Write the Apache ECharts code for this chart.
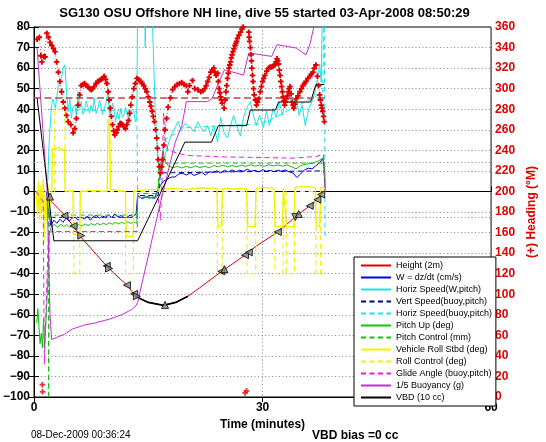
<!DOCTYPE html>
<html><head><meta charset="utf-8">
<script src="https://cdn.jsdelivr.net/npm/echarts@6/dist/echarts.min.js"></script>
<style>html,body{margin:0;padding:0;background:#fff}#c{width:546px;height:442px}</style>
</head><body><div id="c"></div>
<script>
const FONT = '"Liberation Sans", Arial, Helvetica, sans-serif';

// ---- data (time in minutes) ----
const legendNames = ['Height (2m)','W = dz/dt (cm/s)','Horiz Speed(W,pitch)','Vert Speed(buoy,pitch)','Horiz Speed(buoy,pitch)','Pitch Up (deg)','Pitch Control (mm)','Vehicle Roll Stbd (deg)','Roll Control (deg)','Glide Angle (buoy,pitch)','1/5 Buoyancy (g)','VBD (10 cc)'];

const height = [[1.7,0],[2.0,-2],[2.3,-5],[4.3,-12.6],[6.2,-22.4],[9.7,-37],[12.3,-46],[13.3,-51],[15,-54],[17,-55.4],[18.6,-54],[20.2,-51],[21.7,-47],[24.7,-38.7],[27.9,-30.5],[29.2,-26.5],[32.1,-19.5],[34.4,-12],[36.2,-7],[37.2,-4],[37.9,0]];
const heightMarks = [[2.1,-2.5,0],[4.0,-11.8,90],[5.2,-16.8,90],[6.2,-21.5,-90],[9.55,-36.2,90],[9.85,-37.5,-90],[12.2,-45.6,90],[13.15,-49.8,90],[13.5,-51,-90],[17.2,-55.2,0],[24.6,-38.9,90],[25.0,-37.8,0],[27.7,-31,90],[28.2,-29.6,90],[32.0,-19.7,90],[34.3,-12.5,180],[34.75,-11,0],[36.2,-7,90],[37.2,-4,90],[37.7,-1.5,90]];

const wSpeed = [[0.3,0],[1.6,0],[1.9,-8],[2.2,-16.6],[2.6,-14],[3.0,-15.5],[3.4,-13.5],[3.8,-15],[4.2,-13],[4.6,-14.5],[5.0,-13],[5.4,-12.6],[5.8,-14],[6.2,-12.5],[6.6,-13.5],[7.0,-12],[7.4,-14],[7.8,-12.2],[8.2,-11.7],[8.6,-13],[9.0,-12],[9.4,-12.6],[9.8,-11.5],[10.2,-12.8],[10.6,-10.9],[11.0,-12.5],[11.4,-11.7],[11.8,-12.8],[12.2,-12.6],[12.6,-11.5],[13.0,-12.2],[13.4,-11],[13.6,-2],[14.2,-3.5],[14.8,-2.5],[15.4,-3],[15.8,-3.4],[16.2,0],[16.6,3],[17.0,5],[17.5,6],[18.0,7],[18.5,7],[19.0,8.5],[19.5,8.8],[20.0,8],[20.5,9],[21.0,7.8],[21.5,8.5],[22.0,9.3],[22.5,8],[23.0,9.5],[23.5,9.3],[24.0,10],[24.5,9],[25.0,10.3],[25.5,9.5],[26.0,10.5],[26.5,9.6],[27.0,10.3],[27.5,9.8],[28.0,10.8],[28.5,9.8],[29.0,10.3],[29.5,9.5],[30.0,10.6],[30.5,9.8],[31.0,10.3],[31.5,9.6],[32.0,10.3],[32.5,9.8],[33.0,10.5],[33.5,9.5],[34.0,9],[34.5,6.8],[35.0,8.5],[35.5,10.5],[36.0,11.3],[36.5,11],[37.0,12.5],[37.5,14],[37.9,16],[38.05,12.7],[38.2,1.5]];

const horizSpeedW = [[1.8,5],[2.0,25],[2.3,42],[2.5,45],[2.8,40.5],[3.2,52],[3.6,55],[3.84,60],[4.05,61.6],[4.27,48.6],[4.48,38.8],[4.7,45],[4.9,35.6],[5.1,41],[5.35,42],[5.55,37],[5.8,48.6],[6.0,40.5],[6.2,43.7],[6.4,37.5],[6.6,38.8],[6.85,44],[7.1,43.7],[7.3,38],[7.5,42],[7.7,39],[7.9,45.3],[8.15,38],[8.4,40.5],[8.6,44.5],[8.8,43.7],[9.0,37.5],[9.2,40.5],[9.45,43],[9.7,48.6],[9.9,37.2],[10.1,38.8],[10.3,43],[10.5,40.5],[10.7,33.9],[10.95,38.8],[11.15,35],[11.4,40.5],[11.6,36],[11.8,37.2],[12.0,41],[12.2,40.5],[12.45,35],[12.7,37.2],[12.9,40],[13.1,38.8],[13.3,33.9],[13.5,36],[13.6,100],[14.5,100],[14.6,70],[14.7,100],[15.4,100],[15.9,40],[16.2,20],[16.5,7],[16.9,13],[17.3,19],[17.7,24],[18.1,28],[18.5,31],[18.9,34],[19.3,30],[19.8,33],[20.2,32],[20.6,31],[21.0,29],[21.5,34],[21.9,31],[22.3,29],[22.8,32],[23.2,27],[23.6,32],[24.1,24],[24.5,36],[24.9,29],[25.4,26],[25.8,32],[26.2,37],[26.6,32],[27.1,27],[27.5,36],[27.9,40.5],[28.4,43.7],[28.8,37],[29.2,32],[29.6,37],[30.1,31],[30.5,39],[30.9,32],[31.4,40.5],[31.8,36],[32.2,43.7],[32.6,37],[33.1,45.5],[33.5,48.6],[33.9,40.5],[34.4,47],[34.8,37],[35.2,42],[35.6,32],[36.1,40.5],[36.5,43.7],[36.9,48.6],[37.3,57],[37.5,62],[37.7,53],[37.9,100],[38.1,100]];

const vertSpeedBuoy = [[2.2,-12.6],[13.55,-12.6],[13.6,-2],[16.3,-2],[16.6,9],[25,9.5],[38.1,10],[38.2,0]];
const horizSpeedBuoy = [[2.0,40],[13.5,39],[13.55,22],[13.6,-8],[13.62,'-'],[17.0,25],[20,31],[30,33],[37.9,48],[38.1,95],[38.15,95],[38.2,-22]];

const pitchUp = [[0.35,-64],[0.5,-57],[0.65,-66],[0.8,-74],[0.95,-69],[1.1,-76],[1.25,-62],[1.4,-76],[1.6,-60],[1.8,-45],[2.0,-20],[2.3,-17],[2.7,-16],[3.1,-17.5],[3.5,-16],[3.9,-17],[4.3,-16.2],[4.7,-17.4],[5.1,-16.5],[5.5,-17],[5.9,-16],[6.3,-16.8],[6.7,-15.8],[7.1,-16.6],[7.5,-15.6],[7.9,-16.4],[8.3,-15.5],[8.7,-16.3],[9.1,-15.4],[9.5,-16.2],[9.9,-15.2],[10.3,-16],[10.7,-15],[11.1,-15.8],[11.5,-15],[11.9,-15.7],[12.3,-14.8],[12.7,-15.5],[13.1,-15],[13.5,-15.4],[13.6,-2],[14.1,-3.2],[14.6,-2.4],[15.1,-3.4],[15.6,-2.6],[16.1,-3],[16.3,-3],[16.6,10],[16.9,20],[17.2,15],[17.6,12.5],[18.2,11.5],[18.8,12.2],[19.4,11.4],[20,12.2],[20.6,11.5],[21.2,12.4],[21.8,11.6],[22.4,12.3],[23,11.5],[23.6,12.6],[24.2,12],[24.8,12.8],[25.4,12],[26,12.6],[26.6,12],[27.2,12.8],[27.8,12.2],[28.4,13],[29,12.3],[29.6,12.8],[30.2,12.2],[30.8,13],[31.4,12.4],[32,12.9],[32.6,12.3],[33.2,12.9],[33.8,12],[34.4,11],[35,12.5],[35.6,13.2],[36.2,13.5],[36.8,14],[37.4,15],[37.9,16.2],[38.1,14],[38.2,5]];
const pitchControl = [[0.3,0],[1.9,0],[1.92,-105],[1.98,-105],[2.0,-11.5],[13.55,-11.5],[13.6,-1],[16.3,-1],[16.4,13.8],[38.1,13.8],[38.2,0]];

const rollStbd = [[0.3,0],[0.45,-12],[0.6,5],[0.75,-14],[0.9,3],[1.05,-10],[1.2,6],[1.35,-20],[1.5,-3],[1.65,-14],[1.8,4],[2.0,-8],[2.3,-2],[2.45,21],[2.8,20],[3.2,21.5],[3.6,20],[4.0,20.5],[4.1,0],[5.1,0.5],[5.2,-21],[6.0,-21],[6.1,0],[7.5,0.5],[9.6,0],[9.7,33],[9.9,35],[10.05,1],[12.0,0],[12.1,-22],[13.0,-22],[13.1,0],[13.6,0.5],[16,1],[18,1.5],[20,1],[22,1.8],[24.0,1.5],[24.15,-17],[24.6,-17],[24.75,1.5],[26,1.2],[27.9,1.5],[28.05,-17],[29.0,-17],[29.15,1.5],[30.5,2],[31.5,1.5],[31.65,-17],[32.6,-17],[32.75,1.5],[33.0,1.5],[33.15,-17],[34.1,-17],[34.25,2],[35.5,2.5],[36.9,2],[37.05,-17],[37.5,-17],[37.65,2],[38.1,2],[38.2,0]];
const rollControl = [[0.3,0],[1.3,0],[1.32,-25],[1.48,-25],[1.5,0],[2.7,0],[2.72,40],[4.05,40],[4.07,0],[5.2,0],[5.22,-40],[6.0,-40],[6.02,0],[9.65,0],[9.67,35],[10.0,35],[10.02,0],[12.0,0],[12.02,-40],[13.05,-40],[13.07,0],[24.05,0],[24.07,-40],[24.7,-40],[24.72,0],[27.95,0],[27.97,-40],[29.1,-40],[29.12,0],[31.6,0],[31.62,-40],[32.7,-40],[32.72,0],[33.1,0],[33.12,-40],[34.2,-40],[34.22,0],[37.0,0],[37.02,-40],[37.6,-40],[37.62,0],[38.2,0]];

const glideAngle = [[0.3,0],[1.2,-5],[1.35,-84],[1.55,-84],[1.9,-20],[2.3,-19.5],[13.55,-19.5],[13.6,-3],[16.3,-3],[16.6,-14],[16.8,5],[17.0,38],[17.2,26],[17.6,20],[20,17.5],[25,16.8],[30,16.5],[34,16.2],[37,17],[38,18],[38.2,0]];
const buoyancy = [[0.4,70],[1.7,2],[2.1,-60],[2.3,-72],[3.0,-71],[4.0,-69.5],[5.0,-67],[6.6,-65],[8.0,-64],[10.0,-62],[11.5,-60],[12.8,-57.5],[13.3,-56],[13.6,-54],[16.5,-7],[18.5,23.5],[19.4,32],[20.0,43.7],[22.8,43.7],[23.4,45.3],[24.1,51.8],[25.0,59.2],[27.5,56.6],[28.2,67.4],[31.2,65.7],[31.9,71.4],[34.4,69.8],[35.7,66.5],[36.2,71.4],[36.8,81],[37.3,95]];
const vbd = [[0.4,45.5],[2.6,-24],[13.6,-24],[19.8,24],[23.3,24],[24.2,32],[27.9,32],[28.4,39.6],[31.7,39.6],[32.1,43.5],[36.3,43.5],[37.0,52],[38.1,52]];

// heading (deg, right axis)
const heading = [[0.4,348],[0.7,350],[0.9,332],[1.03,326],[1.06,'-'],[1.3,331],[1.46,331],[1.68,354],[1.9,350],[2.1,345],[2.33,342],[2.55,339],[2.76,336],[2.97,326],[3.19,316],[3.4,307],[3.62,297],[3.84,287],[4.05,281],[4.27,274],[4.48,268],[4.83,265],[5.13,257],[5.34,261],[5.56,271],[5.78,284],[6.0,294],[6.2,303],[6.4,304],[6.63,305],[6.85,303],[7.07,302],[7.3,300],[7.5,299],[7.7,300],[7.9,302],[8.15,305],[8.36,307],[8.6,308],[8.8,309],[9.0,310],[9.2,312],[9.4,309],[9.57,305],[9.74,297],[9.87,289],[10.0,281],[10.15,273],[10.3,265],[10.45,259],[10.6,255],[10.8,257],[10.95,260],[11.1,263],[11.3,266],[11.45,266],[11.6,265],[11.8,263],[12.0,261],[12.2,265],[12.4,269],[12.55,276],[12.7,284],[12.9,292],[13.1,300],[13.3,305],[13.5,310],[13.75,309],[14.0,307],[14.2,305],[14.4,303],[14.6,300],[14.8,297],[15.0,292],[15.2,287],[15.35,283],[15.5,278],[15.65,273],[15.8,268],[15.95,260],[16.1,252],[16.2,242],[16.3,231],[16.45,224],[16.6,218],[16.75,224],[16.9,231],[17.05,245],[17.2,260],[17.4,271],[17.6,282],[17.9,291],[18.2,299],[18.5,302],[18.8,304],[19.1,305],[19.4,306],[19.7,304],[20.0,303],[20.2,297],[20.4,303],[20.8,308],[21.1,300],[21.5,299],[21.9,297],[22.15,298],[22.4,300],[22.6,303],[22.8,307],[23.0,311],[23.2,316],[23.4,318],[23.6,320],[23.75,316],[23.9,313],[24.1,315],[24.2,307],[24.3,300],[24.4,296],[24.5,292],[24.6,289],[24.7,286],[24.95,281],[25.1,289],[25.2,297],[25.3,303],[25.4,310],[25.5,315],[25.6,320],[25.7,323],[25.8,326],[25.9,330],[26.0,333],[26.12,336],[26.25,339],[26.38,342],[26.5,344],[26.6,346],[26.7,349],[26.9,352],[27.1,355],[27.3,358],[27.45,360],[27.6,'-'],[28.2,355],[28.25,350],[28.3,346],[28.4,340],[28.5,333],[28.55,327],[28.6,320],[28.68,313],[28.75,307],[28.82,300],[28.9,294],[29.05,289],[29.2,284],[29.35,287],[29.5,290],[29.7,297],[29.85,302],[30.0,307],[30.15,310],[30.3,313],[30.55,317],[30.8,320],[31.0,321],[31.2,321],[31.4,322],[31.6,323],[31.75,326],[31.9,329],[32.0,327],[32.1,324],[32.2,318],[32.3,313],[32.4,307],[32.5,302],[32.6,297],[32.7,292],[32.8,288],[32.9,284],[33.0,287],[33.1,290],[33.25,293],[33.4,297],[33.5,300],[33.6,302],[33.75,295],[33.9,287],[34.0,284],[34.1,281],[34.25,285],[34.4,290],[34.65,293],[34.9,297],[35.1,300],[35.3,303],[35.5,305],[35.7,307],[35.95,310],[36.2,312],[36.4,314],[36.6,316],[36.8,320],[37.0,323],[37.2,312],[37.35,303],[37.5,294],[37.6,289],[37.7,284],[37.8,281],[37.9,278],[38.0,273],[38.1,268]];
const headingWrap = [[1.08,12],[1.12,5],[27.7,4],[27.9,6]];
const targetHeading = [[0,291],[38.2,291]];
const refLines = [14, -12.7];

// ---- chart ----
const chart = echarts.init(document.getElementById('c'), null, {renderer:'canvas'});
const C = {
  red:'#e00000', blue:'#0000e6', cyan:'#1fe3e3', navy:'#00008b', green:'#12c012',
  yellow:'#f2f200', magDash:'#e020e0', mag:'#c22fd0', black:'#000000'
};
function ln(name, data, color, dash, width, z, extra){
  return Object.assign({
    name, type:'line', data, yAxisIndex:0, symbol:'none', showSymbol:false,
    clip:true, z:z||2, silent:true, connectNulls:false,
    lineStyle:{color, width:width||1, type: dash ? [5,3.5] : 'solid'},
    itemStyle:{color}
  }, extra||{});
}
const gridDots = {color:'#8a8a8a', width:1, type:[1,2.5]};
const PLUS = 'path://M2,0H4V2H6V4H4V6H2V4H0V2H2Z';
const series = [
  ln(legendNames[0], height, C.red, false, 1, 2),
  ln('apogee', height.filter(p => p[0] >= 13.3 && p[0] <= 20.2), C.black, false, 1.8, 2),
  ln(legendNames[1], wSpeed, C.blue, false, 1, 3),
  ln(legendNames[2], horizSpeedW, C.cyan, false, 1, 3),
  ln(legendNames[3], vertSpeedBuoy, C.navy, true, 1, 3),
  ln(legendNames[4], horizSpeedBuoy, C.cyan, true, 1, 3),
  ln(legendNames[5], pitchUp, C.green, false, 1, 3),
  ln(legendNames[6], pitchControl, C.green, true, 1, 3),
  ln(legendNames[7], rollStbd, C.yellow, false, 1.3, 3),
  ln(legendNames[8], rollControl, C.yellow, true, 1.1, 3),
  ln(legendNames[9], glideAngle, C.magDash, true, 1, 3),
  ln(legendNames[10], buoyancy, C.mag, false, 1, 3),
  ln(legendNames[11], vbd, C.black, false, 1, 4, {
    markLine:{silent:true, symbol:'none', label:{show:false}, lineStyle:gridDots,
      data: refLines.map(v => ({yAxis:v}))}
  }),
  {name:'heightMarks', type:'scatter', yAxisIndex:0, z:6, silent:true,
   symbol:'triangle', symbolSize:7,
   itemStyle:{color:'#8c8c8c', borderColor:'#000', borderWidth:1},
   data: heightMarks.map(m => ({value:[m[0], m[1]], symbolRotate:m[2]}))},
  {name:'target', type:'line', yAxisIndex:1, data:targetHeading, symbol:'none', z:5, silent:true,
   lineStyle:{color:'#b84a4a', width:1.5, type:[7,3.5]}},
  {name:'heading', type:'line', yAxisIndex:1, data:heading, z:7, silent:true, connectNulls:false,
   symbol:PLUS, symbolSize:5.5, showSymbol:true, showAllSymbol:true,
   itemStyle:{color:'#e00000'}, lineStyle:{color:'#e00000', width:0.8, type:[1,2]}},
  {name:'headingWrap', type:'scatter', yAxisIndex:1, data:headingWrap, z:7, silent:true,
   symbol:PLUS, symbolSize:5.5, itemStyle:{color:'#e00000'}}
];

const lbl = {fontFamily:FONT, fontWeight:'bold', fontSize:12, color:'#000'};
const option = {
  animation:false,
  backgroundColor:'#fff',
  textStyle:{fontFamily:FONT},
  grid:{left:32, right:49, top:27, bottom:45, show:true, borderColor:'#000', borderWidth:1, backgroundColor:'rgba(0,0,0,0)'},
  legend:{
    data:legendNames, orient:'vertical', left:354, top:257, padding:[4,4,4,6],
    itemWidth:30, itemHeight:8, itemGap:3, borderColor:'#000', borderWidth:1,
    backgroundColor:'#fff', selectedMode:false, z:20,
    itemStyle:{opacity:0},
    textStyle:{fontFamily:FONT, fontSize:9, color:'#000', padding:[0,0,0,0]}
  },
  xAxis:[{
    type:'value', min:0, max:60, interval:30, position:'bottom',
    axisLine:{show:true, lineStyle:{color:'#000'}}, axisTick:{show:true, inside:true, length:5, lineStyle:{color:'#000'}},
    axisLabel:Object.assign({margin:5}, lbl),
    splitLine:{show:true, lineStyle:gridDots},
    name:'Time (minutes)', nameLocation:'middle', nameGap:19, nameTextStyle:lbl
  },{
    type:'value', min:0, max:60, interval:30, position:'top',
    axisLine:{show:true, lineStyle:{color:'#000'}}, axisTick:{show:true, inside:true, length:5, lineStyle:{color:'#000'}},
    axisLabel:{show:false}, splitLine:{show:false}
  }],
  yAxis:[{
    type:'value', min:-100, max:80, interval:10, position:'left',
    axisLine:{show:true, lineStyle:{color:'#000'}}, axisTick:{show:true, inside:true, length:5, lineStyle:{color:'#000'}},
    axisLabel:Object.assign({margin:4, formatter:v => String(v).replace('-', '\u2212')}, lbl),
    splitLine:{show:true, lineStyle:gridDots}
  },{
    type:'value', min:0, max:360, interval:20, position:'right',
    axisLine:{show:true, lineStyle:{color:'#000'}}, axisTick:{show:true, inside:true, length:5, lineStyle:{color:'#000'}},
    axisLabel:Object.assign({}, lbl, {margin:4, color:'#e00000'}),
    splitLine:{show:false},
    name:'(+) Heading (\u00B0M)', nameLocation:'middle', nameGap:30, nameRotate:90,
    nameTextStyle:Object.assign({}, lbl, {color:'#e00000'})
  }],
  graphic:[
    {type:'text', silent:true, z:30,
     style:{text:'SG130 OSU Offshore NH line, dive 55 started 03-Apr-2008 08:50:29', x:264.5, y:13.5, textAlign:'center', textVerticalAlign:'middle',
       font:'bold 13px ' + FONT, fill:'#000'}},
    {type:'text', silent:true, z:30,
     style:{text:'08-Dec-2009 00:36:24', x:31, y:435, textVerticalAlign:'middle', font:'10px ' + FONT, fill:'#000'}},
    {type:'text', silent:true, z:30,
     style:{text:'VBD bias =0 cc', x:312, y:435.5, textVerticalAlign:'middle', font:'bold 12px ' + FONT, fill:'#000'}}
  ],
  series
};
chart.setOption(option);
</script></body></html>
